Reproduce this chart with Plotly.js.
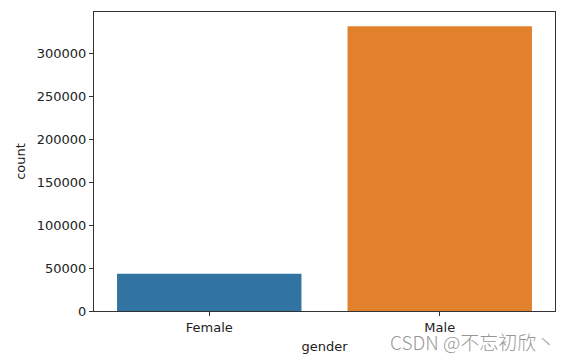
<!DOCTYPE html>
<html>
<head>
<meta charset="utf-8">
<script src="https://cdn.plot.ly/plotly-3.0.1.min.js"></script>
<style>html,body{margin:0;padding:0;background:#fff;}#chart{width:570px;height:360px;}</style>
</head>
<body>
<div id="chart"></div>
<script>
const categories = ["Female", "Male"];
const counts = [43500, 332000];
const barColors = ["#3274a1", "#e1812c"];
const yTicks = [0, 50000, 100000, 150000, 200000, 250000, 300000];

const trace = {
  type: "bar",
  x: categories,
  y: counts,
  marker: {color: barColors, line: {width: 0}},
  hoverinfo: "x+y"
};

const font = {family: "DejaVu Sans, sans-serif", size: 13, color: "#222"};
const layout = {
  width: 570, height: 360,
  margin: {l: 94, r: 15, t: 12, b: 49},
  paper_bgcolor: "#fff", plot_bgcolor: "#fff",
  font: font,
  bargap: 0.2,
  showlegend: false,
  xaxis: {
    type: "category",
    range: [-0.5, 1.5],
    showgrid: false, zeroline: false,
    showline: true, mirror: true, linecolor: "#333", linewidth: 1,
    ticks: "outside", ticklen: 4, tickcolor: "#333",
    tickfont: {size: 13, color: "#222"},
    title: {text: "gender", font: {size: 13, color: "#222"}, standoff: 8}
  },
  yaxis: {
    range: [0, Math.max(...counts) * 1.05],
    tickvals: yTicks,
    tickformat: "d",
    showgrid: false, zeroline: false,
    showline: true, mirror: true, linecolor: "#333", linewidth: 1,
    ticks: "outside", ticklen: 4, tickcolor: "#333",
    tickfont: {size: 13, color: "#222"},
    title: {text: "count", font: {size: 13, color: "#222"}, standoff: 8}
  },
  annotations: [{
    text: "CSDN @不忘初欣丶",
    xref: "paper", yref: "paper",
    x: 1.005, y: -0.103, xanchor: "right", yanchor: "middle",
    showarrow: false,
    font: {family: "Noto Sans CJK SC, sans-serif", size: 19, weight: 300, color: "rgba(130,130,130,0.85)"}
  }]
};

Plotly.newPlot("chart", [trace], layout, {displayModeBar: false, staticPlot: true});
</script>
</body>
</html>
